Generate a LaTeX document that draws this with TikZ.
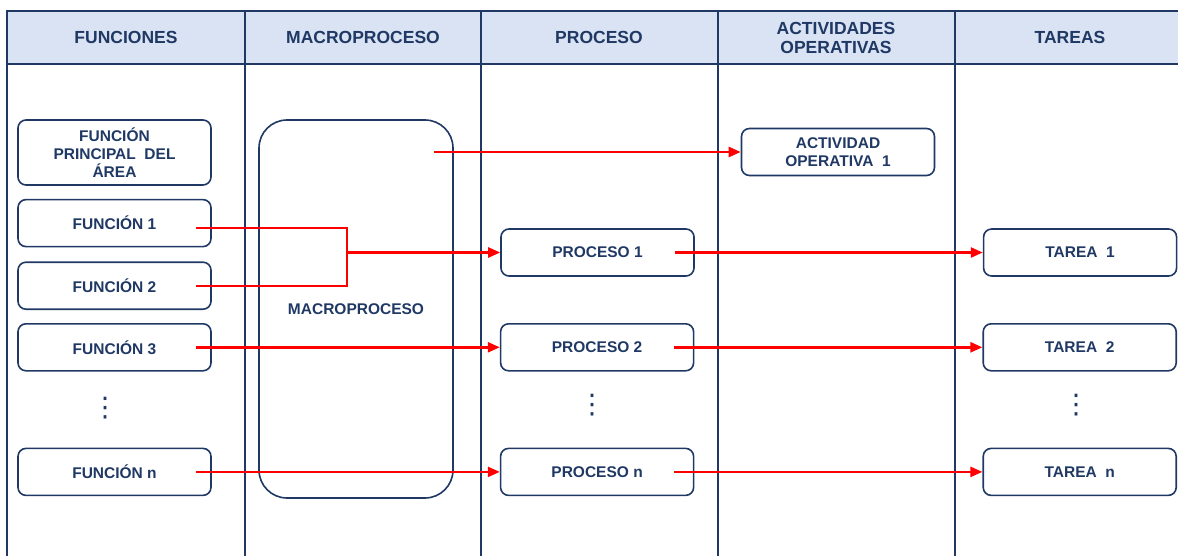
\documentclass[tikz,border=0pt]{standalone}
\usepackage{fontspec}
\setmainfont{Liberation Sans}
\newfontfamily\simbolos{DejaVu Sans}
\usetikzlibrary{arrows.meta,positioning,calc}
\definecolor{navy}{HTML}{1F3864}
\definecolor{cabecera}{HTML}{DAE3F3}
\definecolor{rojo}{HTML}{FF0000}
\tikzset{
  >=Stealth,
  every node/.append style={font=\bfseries\fontsize{15.5}{18}\selectfont, text=navy},
}
\tikzset{
  caja/.style={draw=navy, line width=1.6pt, rounded corners=8pt, align=center,
               minimum width=193pt, minimum height=47pt, inner sep=2pt},
  flecha/.style={-{Triangle[length=12pt,width=10pt]}, draw=rojo, line width=2.4pt},
  linea/.style={draw=rojo, line width=2.4pt},
  titulo/.style={font=\bfseries\fontsize{17.5}{19}\selectfont, align=center},
  puntos/.style={font=\simbolos\fontsize{27}{27}\selectfont}
}

\begin{document}
\begin{tikzpicture}[x=1pt, y=1pt]
\useasboundingbox (0,0) rectangle (1178,-556);

% Table
\fill[cabecera] (7,-11) rectangle (1178,-64);
\draw[navy, line width=1.6pt] (1178,-11) -- (7,-11) -- (7,-556);
\draw[navy, line width=1.6pt] (7,-64) -- (1178,-64);
\foreach \x in {245,481,718,955}
  \draw[navy, line width=1.6pt] (\x,-11) -- (\x,-556);

% Headers
\node[titulo] (hfun) at (126,-37.5) {FUNCIONES};
\node[titulo] (hmac) at (363,-37.5) {MACROPROCESO};
\node[titulo] (hpro) at (599,-37.5) {PROCESO};
\node[titulo] (hact) at (836,-37.5) {ACTIVIDADES\\OPERATIVAS};
\node[titulo] (htar) at (1070,-37.5) {TAREAS};

% Funciones
\node[caja, minimum height=65pt] (fpa) at (114.5,-152.5) {FUNCIÓN\\PRINCIPAL\ \ DEL\\ÁREA};
\node[caja, below=13pt of fpa] (f1) {FUNCIÓN 1};
\node[caja, below=14pt of f1] (f2) {FUNCIÓN 2};
\node[caja, below=13pt of f2] (f3) {FUNCIÓN 3};
\node[puntos] (fd) at (105,-408) {⋮};
\node[caja, below=76pt of f3] (fn) {FUNCIÓN n};

% Macroproceso
\node[caja, rounded corners=28pt, minimum width=194pt, minimum height=378pt] (mac) at (356,-309) {MACROPROCESO};

% Procesos
\node[caja] (p1) at (597.5,-252.5) {PROCESO 1};
\node[caja, right=288pt of f3] (p2) {PROCESO 2};
\node[puntos] (pd) at (592,-405) {⋮};
\node[caja, right=288pt of fn] (pn) {PROCESO n};

% Actividad
\node[caja] (act) at (838,-152) {ACTIVIDAD\\OPERATIVA\ \ 1};

% Tareas
\node[caja, right=288pt of p1] (t1) {TAREA\ \ 1};
\node[caja, right=288pt of p2] (t2) {TAREA\ \ 2};
\node[puntos] (td) at (1076,-405) {⋮};
\node[caja, right=288pt of pn] (tn) {TAREA\ \ n};

% Connectors
\coordinate (mj) at (347,-252.5);
\draw[linea] ([xshift=-16pt,yshift=-5pt]f1.east) -| (mj);
\draw[linea] ([xshift=-16pt]f2.east) -| (mj);
\draw[flecha] (mj) -- (p1.west);
\draw[flecha] ([xshift=-16pt]f3.east) -- (p2.west);
\draw[flecha] ([xshift=-16pt]fn.east) -- (pn.west);
\coordinate (ms) at ([xshift=-20pt]mac.east |- act.west);
\draw[flecha] (ms) -- (act.west);
\draw[flecha] ([xshift=-20pt]p1.east) -- (t1.west);
\draw[flecha] ([xshift=-20pt]p2.east) -- (t2.west);
\draw[flecha] ([xshift=-20pt]pn.east) -- (tn.west);

\end{tikzpicture}
\end{document}
